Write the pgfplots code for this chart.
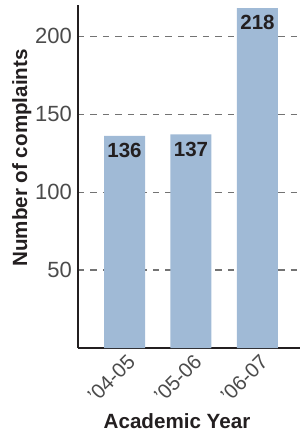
\documentclass[border=0pt]{standalone}
\usepackage{pgfplots}
\pgfplotsset{compat=1.18}
\usepackage{fontspec}
\setmainfont{Liberation Sans}
\definecolor{barblue}{RGB}{160,186,214}
\definecolor{txt}{RGB}{35,31,32}
\definecolor{ticktxt}{RGB}{75,75,75}
\definecolor{gridgray}{RGB}{115,115,115}
\begin{document}
\begin{tikzpicture}
\useasboundingbox (-78pt,-89pt) rectangle (225pt,348pt);
\begin{axis}[
  scale only axis, width=222pt, height=343pt,
  xmin=-0.70, xmax=2.64, ymin=0, ymax=220,
  axis x line=bottom, axis y line=left,
  axis line style={line width=2.5pt, -, txt},
  ytick={50,100,150,200},
  xtick={0,1,2}, xticklabels={’04-05,’05-06,’06-07},
  major tick length=0pt,
  ymajorgrids,
  grid style={gridgray, line width=1.1pt, dash pattern=on 6.5pt off 6pt},
  /pgf/number format/assume math mode=true,
  yticklabel style={font=\fontsize{22}{22}\selectfont, text=ticktxt, inner sep=0pt, xshift=-6pt},
  xticklabel style={font=\fontsize{20.5}{21}\selectfont, text=ticktxt, inner sep=0pt, anchor=east, xshift=7pt, yshift=-10pt, rotate=45},
  xlabel={Academic Year}, ylabel={Number of complaints},
  xlabel style={at={(axis description cs:0.446,-0.236)}, anchor=base, font=\bfseries\fontsize{20.6}{21}\selectfont, text=txt},
  ylabel style={at={(axis description cs:-0.2297,0.554)}, anchor=base, font=\bfseries\fontsize{20.6}{21}\selectfont, text=txt},
  ybar, bar width=41pt,
  nodes near coords,
  every node near coord/.append style={anchor=north, yshift=-4pt, font=\bfseries\fontsize{20.5}{21}\selectfont, text=txt},
]
\addplot[fill=barblue, draw=none] coordinates {(0,136) (1,137) (2,218)};
\end{axis}
\end{tikzpicture}
\end{document}
